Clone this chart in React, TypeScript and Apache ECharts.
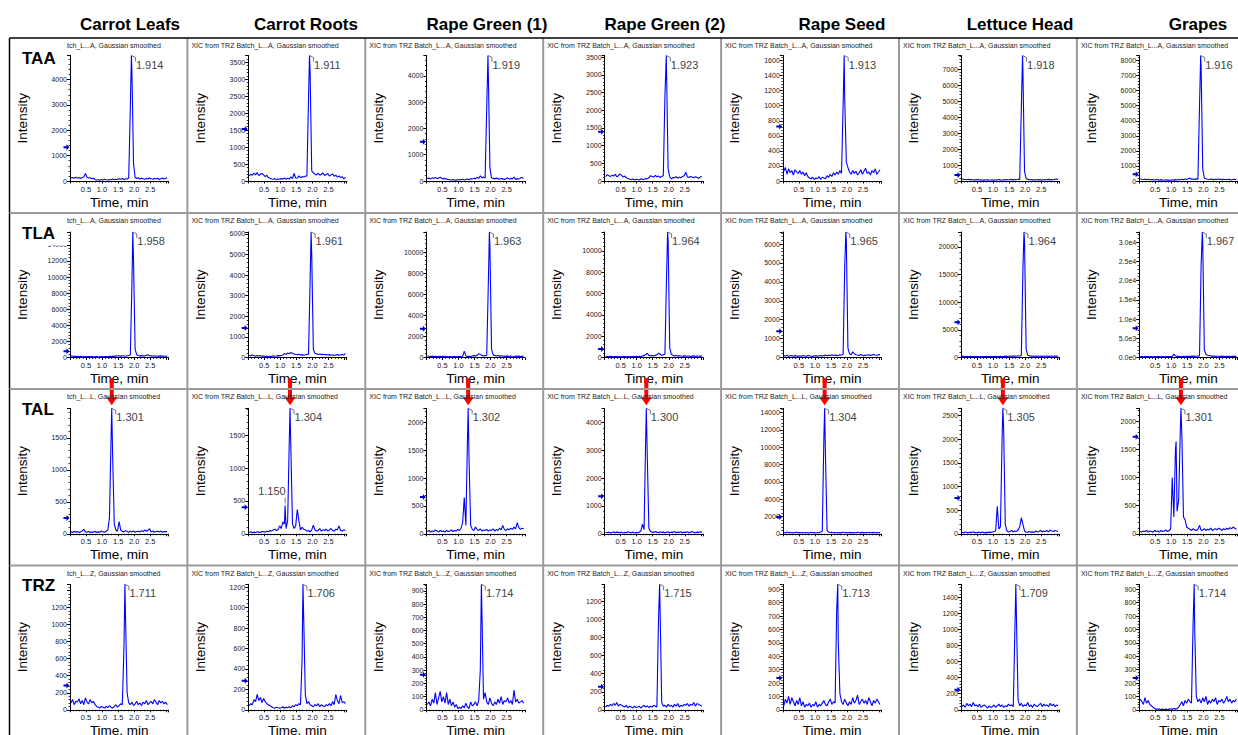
import React, { useEffect, useRef } from 'react';
import * as echarts from 'echarts';

const SAMPLES = ['Carrot Leafs', 'Carrot Roots', 'Rape Green (1)', 'Rape Green (2)', 'Rape Seed', 'Lettuce Head', 'Grapes'];
const ANALYTES = ['TAA', 'TLA', 'TAL', 'TRZ'];
const SUBTITLE_SUFFIX = ['A', 'A', 'L', 'Z'];

const TIMES = [
  0.03, 0.08, 0.13, 0.18, 0.23, 0.28, 0.33, 0.38, 0.43, 0.48,
  0.53, 0.58, 0.63, 0.68, 0.73, 0.78, 0.83, 0.88, 0.93, 0.98,
  1.03, 1.08, 1.13, 1.18, 1.23, 1.28, 1.33, 1.38, 1.43, 1.48,
  1.53, 1.58, 1.63, 1.68, 1.73, 1.78, 1.83, 1.88, 1.93, 1.98,
  2.03, 2.08, 2.13, 2.18, 2.23, 2.28, 2.33, 2.38, 2.43, 2.48,
  2.53, 2.58, 2.63, 2.68, 2.73, 2.78, 2.83, 2.88, 2.93, 2.98,
  3.03,
];

const TAA_VALUES = [
  [120,140,110,150,120,130,100,140,160,300, 150,120,130,90,110,60,40,50,30,60, 40,70,50,40,60,50,80,50,70,60, 90,70,100,60,90,80,120,2900,4300,700, 150,100,130,80,110,90,70,100,80,120, 90,70,100,80,110,60,90,120,80,100, 130],
  [150,200,170,230,180,250,160,200,220,180, 130,170,100,80,60,50,70,40,60,50, 70,60,90,50,80,60,120,70,220,90, 80,150,100,130,120,140,150,2400,3200,300, 250,200,180,230,170,200,240,160,190,220, 150,180,210,140,170,120,150,100,130,60, 110],
  [90,110,80,120,100,130,90,110,140,100, 80,100,70,60,50,40,60,30,50,40, 60,50,70,40,60,80,50,90,70,110, 80,140,100,200,120,150,110,2800,4100,500, 120,100,80,110,90,70,100,80,60,90, 120,70,100,80,150,60,90,70,110,130, 100],
  [120,180,150,130,160,140,190,120,150,200, 160,110,140,90,70,50,40,60,30,50, 40,30,60,50,40,70,60,90,150,130, 110,160,120,140,100,130,150,2400,3150,350, 120,60,100,90,120,80,110,90,130,150, 250,120,100,130,110,90,120,100,80,110, 130],
  [130,180,90,160,110,140,80,150,120,100, 140,90,120,70,110,60,40,30,50,20, 40,30,60,20,50,40,30,70,50,90, 60,110,80,120,90,140,100,1000,1100,250, 180,120,90,140,100,130,80,110,150,90, 130,170,100,120,80,140,110,160,90,120, 150],
  [120,100,90,80,110,70,90,60,80,70, 90,60,80,50,70,60,80,50,60,70, 50,80,60,90,70,60,80,70,90,60, 80,100,70,90,80,110,100,4500,6900,600, 150,100,80,90,70,80,60,90,70,80, 60,90,70,80,100,70,90,80,100,120, 110],
  [150,120,100,130,90,110,80,100,90,70, 100,80,60,90,70,50,80,60,70,50, 80,60,90,70,100,80,110,90,130,100, 150,200,120,130,110,140,120,5000,7600,800, 200,150,120,100,130,110,90,120,100,130, 110,90,120,100,80,110,90,70,100,120, 90],
];

const TLA_VALUES = [
  [200,150,180,120,160,100,140,120,100,130, 90,110,80,120,100,90,110,80,100,120, 90,110,130,100,150,120,160,140,200,180, 220,170,200,180,160,220,250,300,9000,12000, 1000,350,250,200,230,180,200,280,350,220, 200,180,220,160,190,170,200,150,180,160, 170],
  [100,80,120,90,60,100,70,90,60,80, 50,70,40,60,50,80,60,70,90,80, 100,120,200,150,220,180,240,200,170,150, 130,160,120,140,110,130,150,160,3700,5000, 400,200,180,150,170,140,160,130,150,120, 140,110,130,100,120,140,110,130,150,120, 200],
  [150,120,100,130,90,110,80,100,120,90, 110,80,100,70,90,60,80,100,70,90, 80,100,120,600,150,100,120,90,140,180, 150,200,350,300,200,150,180,200,7000,10500, 800,250,200,150,180,130,160,120,140,110, 130,100,150,120,100,140,110,130,100,120, 110],
  [120,100,80,110,90,70,100,80,60,90, 70,100,80,60,90,70,80,100,90,110, 80,120,100,150,200,250,400,200,150,180, 150,200,250,400,300,200,250,300,7500,11000, 900,300,200,150,180,130,160,140,120,150, 130,110,140,100,130,150,120,140,110,130, 150],
  [100,80,120,60,90,110,70,100,80,60, 90,70,110,80,60,100,90,70,60,80, 100,70,90,110,80,100,130,90,120,100, 140,110,130,100,120,150,130,160,4800,6200, 500,200,150,300,200,150,130,110,160,120, 100,130,120,150,110,140,160,130,120,140, 150],
  [250,200,180,220,150,200,170,190,150,180, 160,140,180,150,170,200,150,180,160,190, 170,200,150,180,230,190,210,250,200,220, 240,200,280,250,220,300,260,350,16000,21000, 1500,400,300,250,280,220,250,200,230,260, 200,240,220,250,210,230,260,220,240,250, 230],
  [300,250,200,280,220,260,200,240,210,230, 200,250,220,180,240,200,230,260,220,250, 300,900,400,300,280,250,270,300,260,290, 320,280,300,350,300,330,360,400,24000,30000, 2000,800,600,500,400,350,380,300,340,310, 280,320,300,260,290,310,270,300,280,320, 300],
];

const TAL_VALUES = [
  [30,20,40,25,35,20,30,45,70,30, 25,35,20,30,25,40,20,30,25,45, 30,25,40,60,250,1500,1200,150,60,40, 190,60,40,30,50,35,25,40,30,45, 25,35,40,30,50,35,60,40,55,80, 30,45,25,35,40,30,45,25,35,30, 40],
  [20,30,15,25,20,30,25,20,35,30, 25,40,30,50,40,60,70,50,60,120, 80,180,150,80,200,1400,1300,150,80,120, 370,200,60,100,70,60,40,50,30,60, 130,60,40,50,80,40,60,50,70,40, 60,80,50,40,70,60,120,50,40,60, 50],
  [40,60,30,50,40,70,50,30,60,40, 50,30,60,40,50,70,40,60,50,80, 60,100,200,650,150,1700,1300,150,80,60, 120,80,60,90,50,70,60,80,50,70, 60,90,50,80,60,100,70,150,80,60, 90,70,100,80,120,90,200,110,80,100, 90],
  [50,40,60,30,50,70,40,60,50,40, 60,30,50,40,70,50,40,60,30,50, 40,60,100,350,150,3400,2800,200,80,60, 50,80,60,40,70,50,60,40,50,70, 40,60,50,80,40,60,50,70,40,60, 50,70,40,60,80,50,40,60,50,70, 60],
  [150,100,200,120,180,100,150,130,170,110, 140,120,160,100,150,130,110,170,120,140, 100,150,130,200,300,11000,9000,400,200,150, 170,130,160,120,150,110,140,170,130,150, 120,160,140,110,150,130,170,120,140,160, 110,150,130,170,120,140,160,130,150,120, 140],
  [30,20,40,30,20,35,25,40,30,20, 35,25,30,40,20,30,25,35,30,40, 50,60,580,100,150,2000,2200,200,60,40, 50,70,40,60,50,80,150,340,200,60, 40,30,50,35,40,30,60,40,50,70, 40,60,50,70,40,80,60,50,70,60, 50],
  [40,30,50,40,60,30,50,40,30,60, 40,50,30,60,40,50,70,40,60,80, 1000,300,1500,400,600,1800,1750,300,250,120, 100,80,60,90,70,60,80,150,60,70, 90,60,80,70,100,60,80,90,70,100, 80,60,90,70,100,80,110,90,120,100, 80],
];

const TRZ_VALUES = [
  [80,120,60,100,90,130,70,110,60,140, 90,70,120,80,100,60,40,30,20,40, 30,20,40,25,50,30,20,40,60,30, 50,70,60,700,1100,200,80,60,90,50, 70,100,60,80,50,90,70,110,60,80, 100,70,120,90,60,110,80,100,70,90, 60],
  [40,60,50,100,80,150,90,120,70,110, 80,60,50,40,30,20,15,25,20,15, 20,30,15,25,20,30,20,40,30,50, 40,60,50,500,900,150,60,80,50,40, 30,50,40,60,30,50,40,30,50,40, 60,40,80,50,150,90,60,140,70,80, 60],
  [40,60,30,80,50,130,40,90,140,60, 100,50,130,40,80,30,60,20,40,10, 20,10,30,15,50,20,10,60,30,40, 60,30,70,300,750,80,130,60,40,90, 50,30,60,40,80,50,100,40,70,60, 90,50,70,40,150,60,80,50,60,70, 50],
  [30,50,40,60,45,70,50,80,40,60, 50,40,30,50,20,40,30,20,40,25, 30,40,20,35,50,30,45,25,40,30, 50,40,30,1000,1100,80,40,50,30,60, 40,50,30,60,40,70,30,50,40,60, 50,70,40,60,50,80,40,70,60,50, 40],
  [30,80,50,100,40,90,60,30,70,40, 90,30,60,20,40,30,50,20,40,30, 60,20,40,30,50,70,40,30,60,80, 40,60,50,750,500,120,60,40,80,50, 30,60,40,90,50,70,110,40,60,80, 50,70,40,90,60,30,70,50,80,60, 40],
  [40,60,30,80,50,70,40,90,50,60, 40,70,30,50,60,40,20,50,30,40, 60,30,50,70,40,60,30,50,40,70, 50,60,40,1000,1100,120,50,80,40,60, 50,90,40,60,30,70,50,40,60,80, 40,70,50,60,40,80,50,70,40,60, 50],
  [80,60,40,90,50,70,40,30,20,10, 5,5,5,0,5,0,5,0,5,5, 5,10,5,10,20,40,60,30,70,50, 80,60,50,650,600,100,60,80,50,90, 60,100,40,70,50,80,60,90,40,70, 60,80,50,70,100,60,80,50,70,60, 80],
];

const APEX_TIME = [
  [1.914, 1.911, 1.919, 1.923, 1.913, 1.918, 1.916],
  [1.958, 1.961, 1.963, 1.964, 1.965, 1.964, 1.967],
  [1.301, 1.304, 1.302, 1.300, 1.304, 1.305, 1.301],
  [1.711, 1.706, 1.714, 1.715, 1.713, 1.709, 1.714],
];
const APEX_VALUE = [
  [4950, 3700, 4770, 3550, 1667, 7850, 8335],
  [15600, 6090, 11900, 11770, 6640, 22670, 32600],
  [1960, 1908, 2250, 4500, 14500, 2654, 2232],
  [1473, 1228, 950, 1392, 937, 1560, 937],
];
const Y_STEP = [
  [1000, 500, 1000, 500, 200, 1000, 1000],
  [2000, 1000, 2000, 2000, 1000, 5000, 5000],
  [500, 500, 500, 1000, 2000, 500, 500],
  [200, 200, 100, 200, 100, 200, 100],
];
const MARKER_VALUE = [
  [1330, 1530, 1490, 1390, 724, 380, 450],
  [790, 1430, 2730, 800, 1390, 6360, 7570],
  [245, 405, 660, 1350, 1950, 756, 1725],
  [285, 284, 265, 255, 237, 250, 237],
];
// secondary peaks: [row, col, time, value, label]
const SIDE_PEAKS: [number, number, number, number, string][] = [
  [2, 1, 1.15, 430, '1.150'],
  [2, 6, 1.15, 1640, ''],
];
const EXP_LABEL_CELLS = [[1, 6]];
// tick labels hidden under the row-label box: [row, col, value]
const COVERED_TICK_LABELS = [[3, 0, 1400]];
const FLAGGED_ROW = 2;

const VALUES = [TAA_VALUES, TLA_VALUES, TAL_VALUES, TRZ_VALUES];

const FONT = "'Liberation Sans', Arial, Helvetica, sans-serif";
const TITLE_X = [130, 306, 487, 665, 842, 1020, 1198];
const COL_BORDER = (c: number) => 9.5 + 177.9 * c;
const ROW_BORDER = [38, 213, 389, 565.5];
const PLOT_TOP = [55.5, 232, 408.3, 584.3];
const PLOT_LEFT = (c: number) => 70 + 178.2 * c;
const PLOT_W = 98.5;
const PLOT_H = 125.5;

const BRACKET = 'path://M0,0 L4,2 L4,6';
const BLUE_ARROW = 'path://M0,2 L3,2 L3,0 L6,3 L3,6 L3,4 L0,4 Z';
const RED_ARROW = 'path://M3.5,0 L7.5,0 L7.5,19 L11,19 L5.5,27 L0,19 L3.5,19 Z';

function buildOption() {
  const grid: any[] = [];
  const xAxis: any[] = [];
  const yAxis: any[] = [];
  const series: any[] = [];
  const graphic: any[] = [];

  for (let r = 0; r < ANALYTES.length; r++) {
    for (let c = 0; c < SAMPLES.length; c++) {
      const k = r * SAMPLES.length + c;
      const apexT = APEX_TIME[r][c];
      const apexV = APEX_VALUE[r][c];
      const expo = EXP_LABEL_CELLS.some(([rr, cc]) => rr === r && cc === c);
      const covered = COVERED_TICK_LABELS.filter(([rr, cc]) => rr === r && cc === c).map((x) => x[2]);
      grid.push({
        left: PLOT_LEFT(c), top: PLOT_TOP[r], width: PLOT_W, height: PLOT_H,
        containLabel: false, outerBoundsMode: 'none',
      });
      xAxis.push({
        type: 'value', gridIndex: k, min: 0, max: 3.07, interval: 0.5,
        axisLine: { show: true, onZero: false, lineStyle: { color: '#000', width: 1 } },
        axisTick: { show: true, length: 2.5, lineStyle: { color: '#000', width: 1 } },
        minorTick: { show: true, splitNumber: 5, length: 1.5, lineStyle: { color: '#000', width: 0.8 } },
        splitLine: { show: false },
        axisLabel: {
          fontSize: 7.5, color: '#222', margin: 4, fontFamily: FONT,
          showMinLabel: false, showMaxLabel: false,
          formatter: (v: number) => (v > 0.2 && v < 2.8 ? v.toFixed(1) : ''),
        },
        name: 'Time, min', nameLocation: 'middle', nameGap: 14,
        nameTextStyle: { fontSize: 13.5, color: '#000', fontFamily: FONT },
      });
      yAxis.push({
        type: 'value', gridIndex: k, min: 0, max: apexV, interval: Y_STEP[r][c],
        axisLine: { show: true, onZero: false, lineStyle: { color: '#000', width: 1 } },
        axisTick: { show: true, length: 3, lineStyle: { color: '#000', width: 1 } },
        minorTick: { show: true, splitNumber: 5, length: 1.5, lineStyle: { color: '#000', width: 0.8 } },
        splitLine: { show: false },
        axisLabel: {
          fontSize: 7, color: '#222', margin: 3, fontFamily: FONT, showMaxLabel: false,
          formatter: (v: number) => {
            if (covered.indexOf(v) >= 0) return '';
            return expo
              ? (v === 0 ? '0.0e0' : v.toExponential(1).replace('e+', 'e'))
              : String(Math.round(v));
          },
        },
        name: 'Intensity', nameLocation: 'middle', nameGap: 41,
        nameTextStyle: { fontSize: 13.5, color: '#000', fontFamily: FONT },
      });

      const pts: number[][] = TIMES.map((t, i) => [t, VALUES[r][c][i]]);
      pts.push([apexT, apexV]);
      const marks: any[] = [
        {
          coord: [apexT, apexV], symbol: BRACKET, symbolSize: [4, 6], symbolOffset: [2, 3],
          itemStyle: { color: 'none', borderColor: '#555', borderWidth: 0.8 },
        },
        {
          coord: [apexT, apexV], symbol: 'rect', symbolSize: 1,
          itemStyle: { color: 'rgba(0,0,0,0)' },
          label: {
            show: true, position: [5, 4], formatter: apexT.toFixed(3),
            fontSize: 11, color: '#444', fontFamily: FONT,
          },
        },
        {
          coord: [0, MARKER_VALUE[r][c]], symbol: BLUE_ARROW, symbolSize: [6, 6], symbolOffset: [-3.5, 0],
          itemStyle: { color: '#0000c8' },
        },
      ];
      if (r === FLAGGED_ROW) {
        marks.push({
          coord: [apexT, apexV], symbol: RED_ARROW, symbolSize: [11, 27], symbolOffset: [0, -16.5],
          itemStyle: { color: '#ff0000' },
        });
      }
      SIDE_PEAKS.filter((p) => p[0] === r && p[1] === c).forEach((p) => {
        pts.push([p[2], p[3]]);
        if (p[4]) {
          marks.push({
            coord: [p[2], p[3]], symbol: 'rect', symbolSize: [0.8, 6], symbolOffset: [0, -5],
            itemStyle: { color: '#555' },
            label: {
              show: true, position: [1, -12], align: 'right', verticalAlign: 'top',
              formatter: p[4], fontSize: 11, color: '#444', fontFamily: FONT,
            },
          });
        }
      });
      pts.sort((a, b) => a[0] - b[0]);

      series.push({
        type: 'line', xAxisIndex: k, yAxisIndex: k, data: pts,
        symbol: 'none', showSymbol: false, silent: true,
        lineStyle: { color: '#0000ff', width: 1.1 }, itemStyle: { color: '#0000ff' },
        markPoint: { silent: true, animation: false, label: { show: false }, data: marks },
      });

      // subtitle
      graphic.push({
        type: 'text', x: COL_BORDER(c) + 4, y: ROW_BORDER[r] + 7.5, z: 10, silent: true,
        style: {
          text: `XIC from TRZ Batch_L...${SUBTITLE_SUFFIX[r]}, Gaussian smoothed`,
          fontSize: 7, fontFamily: FONT, fill: '#222',
          textAlign: 'left', textVerticalAlign: 'middle', align: 'left', verticalAlign: 'middle',
        },
      });
    }
    // row label box
    graphic.push({
      type: 'rect', z: 100, silent: true,
      shape: { x: 11, y: ROW_BORDER[r] + 1.5, width: 56, height: 31 },
      style: { fill: '#fff' },
    });
    graphic.push({
      type: 'text', x: 22, y: ROW_BORDER[r] + 20, z: 101, silent: true,
      style: {
        text: ANALYTES[r], fontSize: 17, fontWeight: 'bold', fontFamily: FONT, fill: '#000',
        textAlign: 'left', textVerticalAlign: 'middle', align: 'left', verticalAlign: 'middle',
      },
    });
  }

  // table lines
  for (let c = 0; c < SAMPLES.length; c++) {
    const x = COL_BORDER(c);
    graphic.push({
      type: 'line', z: 120, silent: true,
      shape: { x1: x, y1: ROW_BORDER[0], x2: x, y2: 735 },
      style: { stroke: c === 0 ? '#000' : '#9a9a9a', lineWidth: c === 0 ? 1.5 : 2 },
    });
  }
  for (let r = 0; r < ROW_BORDER.length; r++) {
    const y = ROW_BORDER[r];
    graphic.push({
      type: 'line', z: 120, silent: true,
      shape: { x1: COL_BORDER(0), y1: y, x2: 1238, y2: y },
      style: { stroke: r === 0 ? '#000' : '#9a9a9a', lineWidth: r === 0 ? 1.5 : 2 },
    });
  }
  // column titles
  SAMPLES.forEach((s, c) => {
    graphic.push({
      type: 'text', x: TITLE_X[c], y: 24, z: 101, silent: true,
      style: {
        text: s, fontSize: 17, fontWeight: 'bold', fontFamily: FONT, fill: '#000',
        textAlign: 'center', textVerticalAlign: 'middle', align: 'center', verticalAlign: 'middle',
      },
    });
  });

  return {
    animation: false,
    backgroundColor: '#fff',
    grid, xAxis, yAxis, series, graphic,
  };
}

export default function App() {
  const ref = useRef<HTMLDivElement>(null);
  useEffect(() => {
    document.body.style.margin = '0';
    const chart = echarts.init(ref.current as HTMLDivElement, null, { renderer: 'svg' });
    chart.setOption(buildOption() as any);
    return () => chart.dispose();
  }, []);
  return <div ref={ref} style={{ width: 1238, height: 735, background: '#fff' }} />;
}
